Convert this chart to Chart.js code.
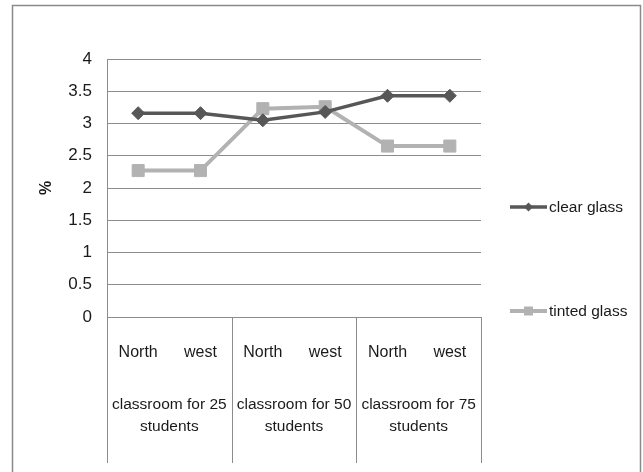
<!DOCTYPE html>
<html>
<head>
<meta charset="utf-8">
<script src="https://cdn.jsdelivr.net/npm/chart.js@4/dist/chart.umd.min.js"></script>
<style>
  html, body { margin: 0; padding: 0; background: #ffffff; }
  #wrap { position: relative; width: 643px; height: 472px; }
</style>
</head>
<body>
<div id="wrap"><canvas id="chart" width="643" height="472"></canvas></div>
<script>
// Orientation labels (inner axis level) and classroom groups (outer level)
const categories = ['North', 'west', 'North', 'west', 'North', 'west'];
const groups = [
  ['classroom for 25', 'students'],
  ['classroom for 50', 'students'],
  ['classroom for 75', 'students']
];

// Series values (%)
const clearGlass = [3.16, 3.16, 3.05, 3.18, 3.43, 3.43];
const tintedGlass = [2.27, 2.27, 3.23, 3.26, 2.65, 2.65];

// Value axis ticks
const yTicks = [0, 0.5, 1, 1.5, 2, 2.5, 3, 3.5, 4];

const seriesNames = ['clear glass', 'tinted glass'];
const FONT = '"Liberation Sans", Arial, sans-serif';
const TEXT = '#1a1a1a';
const GRID = '#8c8c8c';

// Frame around the whole chart
const framePlugin = {
  id: 'frame',
  beforeDraw(chart) {
    const ctx = chart.ctx;
    ctx.save();
    ctx.fillStyle = '#ffffff';
    ctx.fillRect(0, 0, chart.width, chart.height);
    ctx.strokeStyle = '#8a8a8a';
    ctx.lineWidth = 1.5;
    ctx.strokeRect(12.5, 5.5, 628, 475);
    ctx.restore();
  }
};

// Group dividers spanning both category levels
const dividerPlugin = {
  id: 'dividers',
  afterDraw(chart) {
    const x = chart.scales.x;
    const x2 = chart.scales.x2;
    const ctx = chart.ctx;
    const step = x.getPixelForValue(1) - x.getPixelForValue(0);
    ctx.save();
    ctx.strokeStyle = GRID;
    ctx.lineWidth = 1;
    for (let i = 0; i <= categories.length; i += 2) {
      const px = Math.round(x.getPixelForValue(i) - step / 2) + 0.5;
      ctx.beginPath();
      ctx.moveTo(px, x.top);
      ctx.lineTo(px, x2.bottom);
      ctx.stroke();
    }
    ctx.restore();
  }
};

// Legend entries: line segment with marker, then series name
const legendPlugin = {
  id: 'lineLegend',
  afterDraw(chart) {
    const ctx = chart.ctx;
    const area = chart.chartArea;
    const rows = [area.top + 148, area.top + 252];
    ctx.save();
    chart.data.datasets.forEach((ds, i) => {
      const y = rows[i];
      const x0 = area.right + 29;
      const x1 = area.right + 66;
      const xm = (x0 + x1) / 2;
      ctx.strokeStyle = ds.borderColor;
      ctx.lineWidth = ds.borderWidth;
      ctx.beginPath();
      ctx.moveTo(x0, y);
      ctx.lineTo(x1, y);
      ctx.stroke();
      ctx.fillStyle = ds.pointBackgroundColor;
      ctx.beginPath();
      if (ds.pointStyle === 'rectRot') {
        const r = 4.5;
        ctx.moveTo(xm - r, y);
        ctx.lineTo(xm, y - r);
        ctx.lineTo(xm + r, y);
        ctx.lineTo(xm, y + r);
        ctx.closePath();
      } else {
        ctx.rect(xm - 4.5, y - 4.5, 9, 9);
      }
      ctx.fill();
      ctx.fillStyle = TEXT;
      ctx.font = '15.5px ' + FONT;
      ctx.textAlign = 'left';
      ctx.textBaseline = 'middle';
      ctx.fillText(ds.label, x1 + 2, y + 1);
    });
    ctx.restore();
  }
};

new Chart(document.getElementById('chart'), {
  type: 'line',
  data: {
    labels: categories,
    datasets: [
      {
        label: seriesNames[0],
        data: clearGlass,
        borderColor: '#575757',
        backgroundColor: '#575757',
        pointBackgroundColor: '#575757',
        pointBorderColor: '#575757',
        borderWidth: 3.5,
        pointStyle: 'rectRot',
        pointRadius: 6.5,
        pointBorderWidth: 1,
        tension: 0
      },
      {
        label: seriesNames[1],
        data: tintedGlass,
        borderColor: '#b2b2b2',
        backgroundColor: '#b2b2b2',
        pointBackgroundColor: '#b2b2b2',
        pointBorderColor: '#b2b2b2',
        borderWidth: 4,
        pointStyle: 'rect',
        pointRadius: 8.5,
        pointBorderWidth: 1,
        tension: 0
      }
    ]
  },
  options: {
    responsive: false,
    animation: false,
    layout: { padding: { left: 37, right: 162, top: 59, bottom: 9 } },
    plugins: {
      legend: { display: false },
      tooltip: { enabled: false }
    },
    scales: {
      y: {
        min: yTicks[0],
        max: yTicks[yTicks.length - 1],
        afterBuildTicks(scale) { scale.ticks = yTicks.map(v => ({ value: v })); },
        afterFit(scale) { scale.width = 70; },
        grid: { color: GRID, lineWidth: 1, drawTicks: false },
        border: { color: GRID, width: 1 },
        ticks: {
          color: TEXT,
          padding: 15,
          font: { family: FONT, size: 17 },
          callback: (value) => String(value)
        },
        title: {
          display: true,
          text: '%',
          color: TEXT,
          padding: 0,
          font: { family: FONT, size: 16, weight: 'bold' }
        }
      },
      x: {
        type: 'category',
        position: 'bottom',
        offset: true,
        afterFit(scale) { scale.height = 68; },
        grid: { display: false, drawTicks: false },
        border: { color: GRID, width: 1 },
        ticks: {
          color: TEXT,
          padding: 26,
          maxRotation: 0,
          autoSkip: false,
          font: { family: FONT, size: 16 }
        }
      },
      x2: {
        type: 'category',
        position: 'bottom',
        labels: groups,
        offset: true,
        afterFit(scale) { scale.height = 78; },
        grid: { display: false, drawTicks: false },
        border: { display: false },
        ticks: {
          color: TEXT,
          padding: 8,
          maxRotation: 0,
          autoSkip: false,
          font: { family: FONT, size: 15.5, lineHeight: 1.45 }
        }
      }
    }
  },
  plugins: [framePlugin, dividerPlugin, legendPlugin]
});
</script>
</body>
</html>
